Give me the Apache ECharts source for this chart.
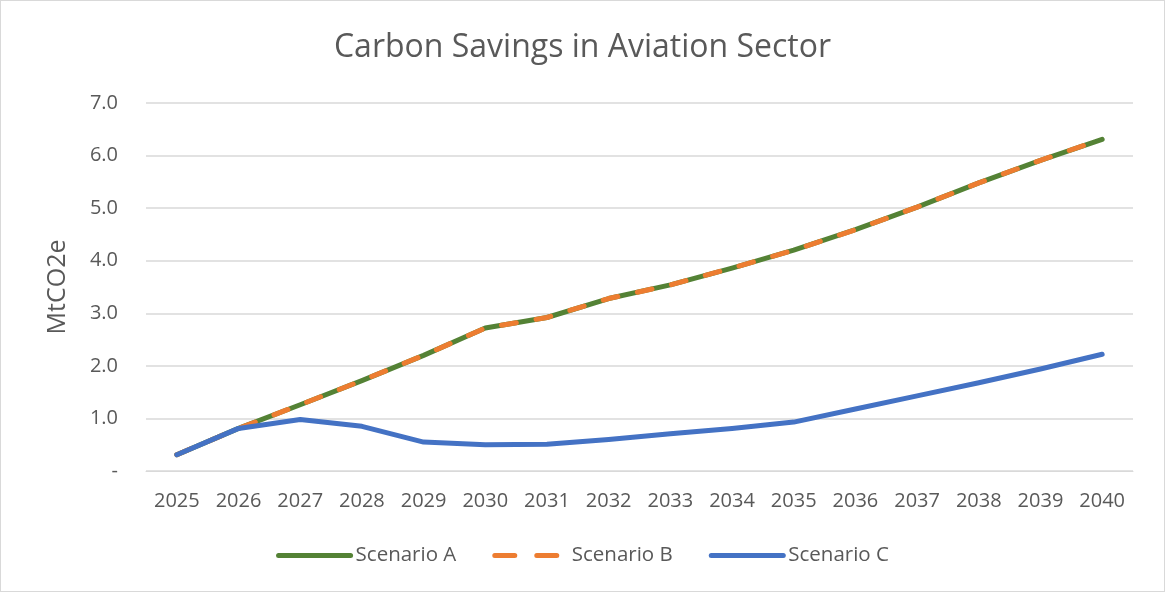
<!DOCTYPE html>
<html>
<head>
<meta charset="UTF-8">
<title>Carbon Savings in Aviation Sector</title>
<script src="https://cdn.jsdelivr.net/npm/echarts@6/dist/echarts.min.js"></script>
<style>
  html, body { margin: 0; padding: 0; background: #fff; }
  #chart { width: 1163px; height: 590px; border: 1px solid #d9d9d9; }
</style>
</head>
<body>
<div id="chart"></div>
<script>
var years = ['2025', '2026', '2027', '2028', '2029', '2030', '2031', '2032',
             '2033', '2034', '2035', '2036', '2037', '2038', '2039', '2040'];
var scenarioA = [0.31, 0.81, 1.26, 1.72, 2.2, 2.72, 2.92, 3.28, 3.54, 3.86, 4.2, 4.59, 5.02, 5.48, 5.91, 6.31];
var scenarioB = [0.31, 0.81, 1.26, 1.72, 2.2, 2.72, 2.92, 3.28, 3.54, 3.86, 4.2, 4.59, 5.02, 5.48, 5.91, 6.31];
var scenarioC = [0.31, 0.81, 0.98, 0.85, 0.55, 0.5, 0.51, 0.6, 0.71, 0.81, 0.93, 1.18, 1.43, 1.68, 1.94, 2.22];

var txt = '#595959';
var font = 'Open Sans';

var chart = echarts.init(document.getElementById('chart'));
chart.setOption({
  animation: false,
  title: {
    text: 'Carbon Savings in Aviation Sector',
    left: 'center',
    top: 26,
    textStyle: { color: txt, fontSize: 32, fontWeight: 'normal', fontFamily: font }
  },
  legend: {
    bottom: 20,
    left: 'center',
    itemWidth: 72,
    itemHeight: 12,
    itemGap: 36,
    lineStyle: { width: 5, cap: 'round' },
    itemStyle: { opacity: 0 },
    textStyle: { color: txt, fontSize: 20.5, fontFamily: font },
    data: [
      { name: 'Scenario A' },
      // legend icon shows two whole dashes like the original
      { name: 'Scenario B', lineStyle: { type: [20, 22], width: 5, cap: 'round' } },
      { name: 'Scenario C' }
    ]
  },
  grid: { left: 145, right: 31, top: 102, bottom: 120 },
  xAxis: {
    type: 'category',
    data: years,
    boundaryGap: true,
    axisLine: { lineStyle: { color: '#d9d9d9' } },
    axisTick: { show: false },
    axisLabel: { color: txt, fontSize: 20, fontFamily: font, margin: 20 }
  },
  yAxis: {
    type: 'value',
    min: 0,
    max: 7,
    interval: 1,
    name: 'MtCO2e',
    nameLocation: 'middle',
    nameGap: 76,
    nameTextStyle: { color: txt, fontSize: 25, fontFamily: font },
    axisLine: { show: false },
    axisTick: { show: false },
    splitLine: { lineStyle: { color: '#d9d9d9', width: 1.5 } },
    axisLabel: {
      color: txt, fontSize: 20, fontFamily: font, margin: 28,
      formatter: function (v) { return v === 0 ? '-' : v.toFixed(1); }
    }
  },
  series: [
    {
      name: 'Scenario A', type: 'line', data: scenarioA, showSymbol: false, symbol: 'none',
      itemStyle: { color: '#548235' },
      lineStyle: { color: '#548235', width: 5, cap: 'round', join: 'round' }
    },
    {
      name: 'Scenario B', type: 'line', data: scenarioB, showSymbol: false, symbol: 'none',
      itemStyle: { color: '#ed7d31' },
      lineStyle: { color: '#ed7d31', width: 5, type: [15, 20], cap: 'round', join: 'round' }
    },
    {
      name: 'Scenario C', type: 'line', data: scenarioC, showSymbol: false, symbol: 'none',
      itemStyle: { color: '#4472c4' },
      lineStyle: { color: '#4472c4', width: 5, cap: 'round', join: 'round' }
    }
  ]
});
</script>
</body>
</html>
